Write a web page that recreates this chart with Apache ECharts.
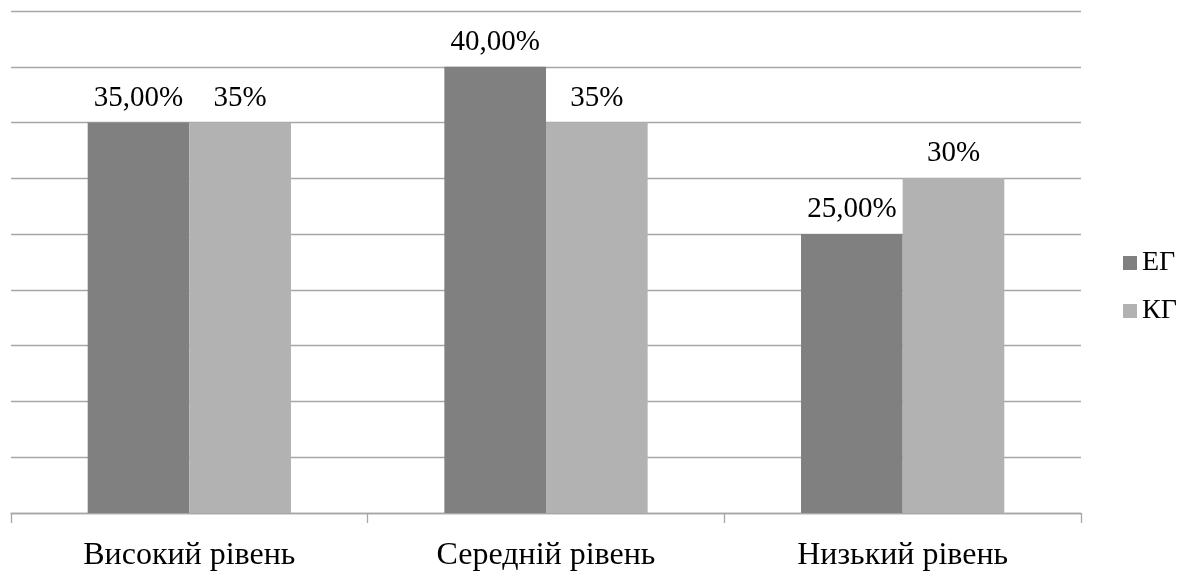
<!DOCTYPE html>
<html>
<head>
<meta charset="utf-8">
<script src="https://cdn.jsdelivr.net/npm/echarts@6/dist/echarts.min.js"></script>
<style>
html,body{margin:0;padding:0;background:#fff;}
#chart{width:1192px;height:572px;}
</style>
</head>
<body>
<div id="chart"></div>
<script>
const categories = ['Високий рівень', 'Середній рівень', 'Низький рівень'];
const seriesNames = ['ЕГ', 'КГ'];
const egValues = [35, 40, 25];
const kgValues = [35, 35, 30];
const yTicks = [0, 5, 10, 15, 20, 25, 30, 35, 40, 45];

const FONT = '"Liberation Serif", "DejaVu Serif", serif';
const chart = echarts.init(document.getElementById('chart'));
chart.setOption({
  animation: false,
  backgroundColor: '#ffffff',
  textStyle: { fontFamily: FONT },
  grid: { left: 11, right: 111, top: 11, bottom: 56, containLabel: false },
  legend: {
    orient: 'vertical',
    left: 1123,
    top: 248,
    padding: 0,
    icon: 'rect',
    itemWidth: 14,
    itemHeight: 14,
    itemGap: 18,
    textStyle: { fontFamily: FONT, fontSize: 28, color: '#000', lineHeight: 30 },
    data: seriesNames
  },
  xAxis: {
    type: 'category',
    data: categories,
    axisLine: { lineStyle: { color: '#a6a6a6', width: 1.3 } },
    axisTick: { show: true, length: 10, lineStyle: { color: '#a6a6a6', width: 1.3 } },
    axisLabel: { fontFamily: FONT, fontSize: 32, color: '#000', margin: 27 }
  },
  yAxis: {
    type: 'value',
    min: yTicks[0],
    max: yTicks[yTicks.length - 1],
    interval: 5,
    axisLine: { show: false },
    axisTick: { show: false },
    axisLabel: { show: false },
    splitLine: { lineStyle: { color: '#a6a6a6', width: 1.3 } }
  },
  series: [
    {
      name: seriesNames[0],
      type: 'bar',
      data: egValues,
      barGap: '0%',
      barCategoryGap: '43%',
      itemStyle: { color: '#808080' },
      label: {
        show: true, position: 'top', distance: 10,
        fontFamily: FONT, fontSize: 29, color: '#000',
        formatter: p => p.value.toFixed(2).replace('.', ',') + '%'
      }
    },
    {
      name: seriesNames[1],
      type: 'bar',
      data: kgValues,
      barGap: '0%',
      barCategoryGap: '43%',
      itemStyle: { color: '#b2b2b2' },
      label: {
        show: true, position: 'top', distance: 10,
        fontFamily: FONT, fontSize: 29, color: '#000',
        formatter: p => p.value + '%'
      }
    }
  ]
});
</script>
</body>
</html>
